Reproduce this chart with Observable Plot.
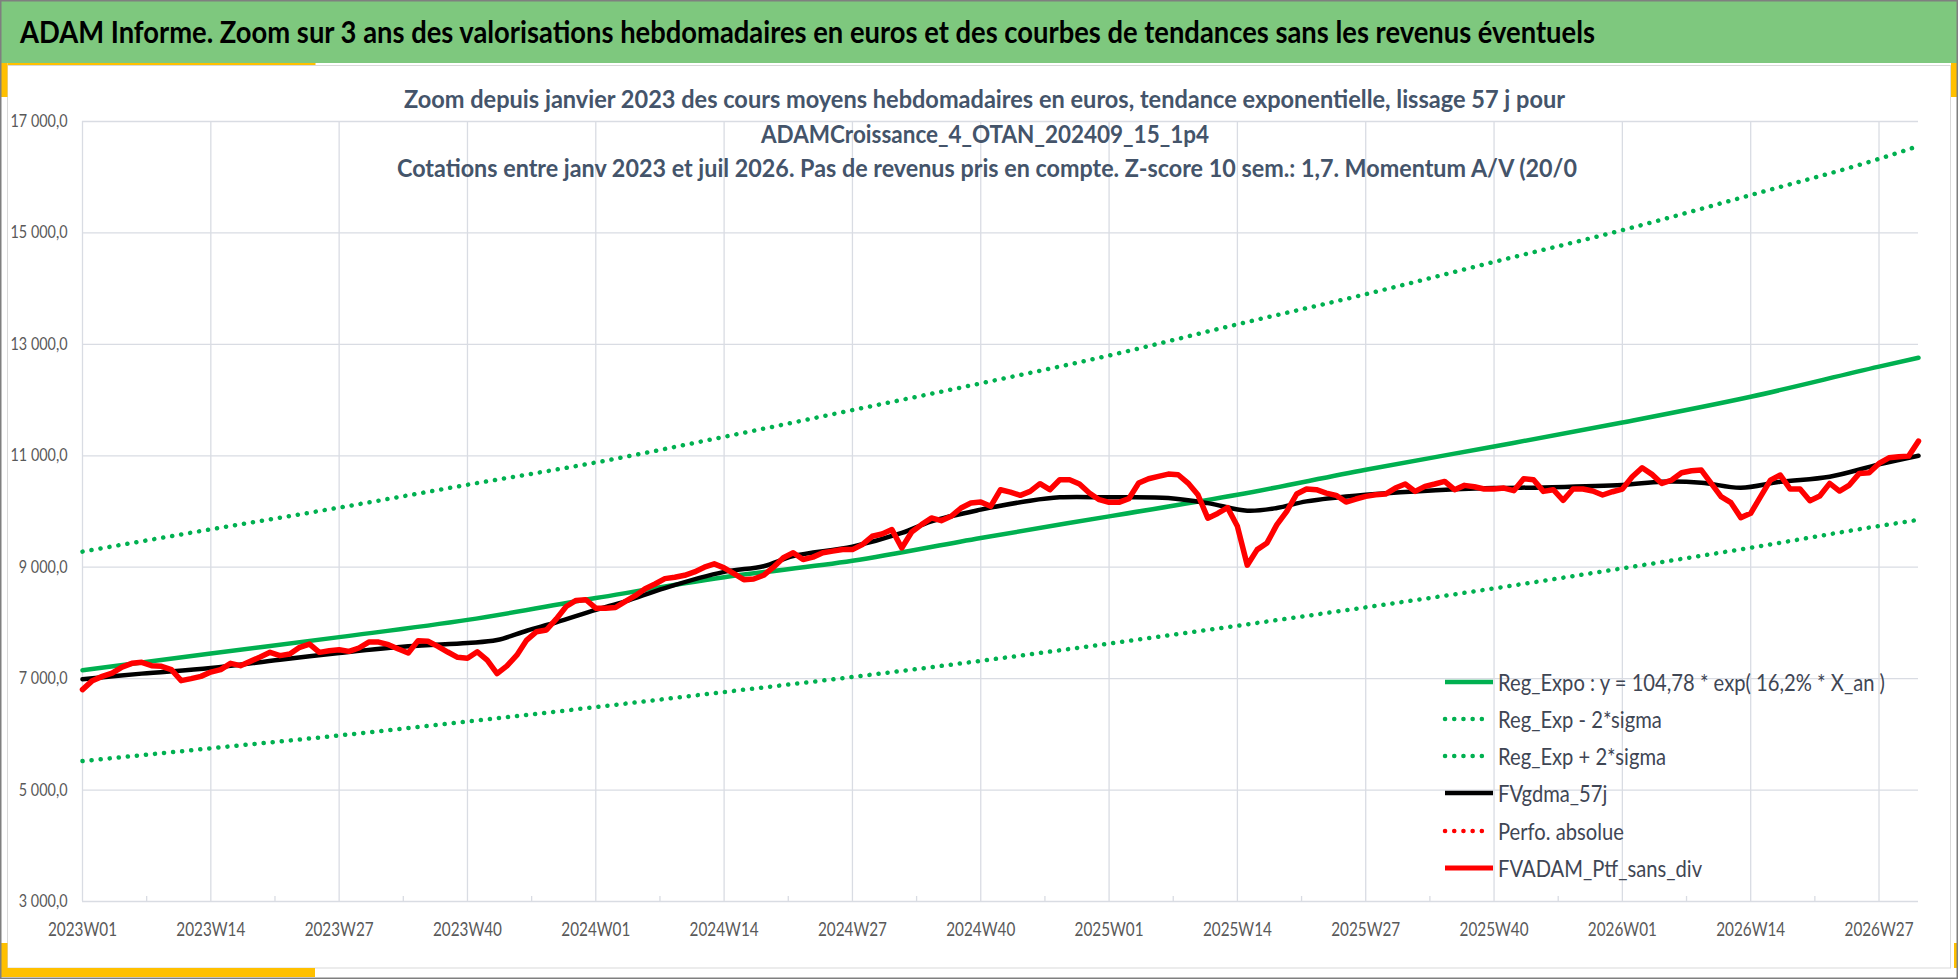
<!DOCTYPE html>
<html>
<head>
<meta charset="utf-8">
<script src="https://cdn.jsdelivr.net/npm/d3@7"></script>
<script src="https://cdn.jsdelivr.net/npm/@observablehq/plot@0.6"></script>
<style>
  html, body { margin: 0; padding: 0; background: #fff; overflow: hidden; }
  #page { position: relative; width: 1958px; height: 979px; overflow: hidden; background: #fff; }
  #page > svg { position: absolute; left: 0; top: 0; }
</style>
</head>
<body>
<div id="page"></div>
<script>
// ---------------- DATA ----------------
const years = [2023, 2024, 2025, 2026];
const weeksInYear = [52, 52, 52, 31];
const tickLabels = ["2023W01","2023W14","2023W27","2023W40","2024W01","2024W14","2024W27","2024W40",
                    "2025W01","2025W14","2025W27","2025W40","2026W01","2026W14","2026W27"];
const yTicks = [3000, 5000, 7000, 9000, 11000, 13000, 15000, 17000];

// exponential trend and ±2 sigma bands, read at each labelled week and at the last week
const trendWeeks  = ["2023W01","2023W14","2023W27","2023W40","2024W01","2024W14","2024W27","2024W40",
                     "2025W01","2025W14","2025W27","2025W40","2026W01","2026W14","2026W27","2026W31"];
const trendValues = [7150, 7450, 7745, 8055, 8446, 8819, 9115, 9525, 9913, 10300, 10749, 11167, 11597, 12060, 12600, 12760];
const upperValues = [9280, 9680, 10070, 10480, 10880, 11340, 11820, 12300, 12800, 13360, 13900, 14480, 15050, 15680, 16330, 16560];
const lowerValues = [5520, 5750, 5980, 6230, 6490, 6760, 7030, 7320, 7630, 7950, 8280, 8620, 8980, 9350, 9740, 9850];

// 57-day moving average (week index since 2023W01, value)
const smaWeekIdx = [0, 6, 13, 20, 26, 33, 39, 42, 45, 48, 52, 55, 59, 65, 69, 72, 78, 83, 86, 91, 96, 99, 104,
                    110, 114, 118, 121, 124, 130, 135, 143, 148, 156, 160, 164, 168, 172, 177, 182, 186];
const smaValues  = [6990, 7090, 7190, 7341, 7460, 7580, 7640, 7693, 7860, 8012, 8235, 8386, 8626, 8916, 9018, 9199, 9370,
                    9615, 9824, 10033, 10194, 10254, 10254, 10242, 10150, 10015, 10063, 10182, 10301, 10361, 10421,
                    10433, 10475, 10534, 10516, 10427, 10534, 10624, 10845, 11000];

// weekly portfolio value (one value per week, 2023W01 .. 2026W31)
const ptfValues = [
  6803, 6964, 7041, 7100, 7208, 7275, 7293, 7233, 7221, 7161,
  6964, 7000, 7041, 7118, 7161, 7275, 7233, 7310, 7388, 7472,
  7413, 7442, 7562, 7621, 7472, 7502, 7520, 7490, 7550, 7657,
  7657, 7610, 7531, 7460, 7682, 7670, 7580, 7478, 7382, 7365,
  7482, 7331, 7090, 7229, 7422, 7693, 7843, 7873, 8072, 8295,
  8404, 8416, 8265, 8265, 8277, 8386, 8488, 8614, 8699, 8795,
  8819, 8855, 8916, 9000, 9060, 8988, 8886, 8777, 8789, 8855,
  9000, 9169, 9259, 9139, 9181, 9259, 9289, 9319, 9316, 9406,
  9555, 9597, 9675, 9346, 9633, 9764, 9884, 9836, 9913, 10063,
  10152, 10170, 10093, 10391, 10349, 10290, 10361, 10499, 10391, 10570,
  10570, 10493, 10331, 10212, 10164, 10164, 10230, 10510, 10588, 10630,
  10672, 10660, 10510, 10301, 9880, 9965, 10070, 9734, 9036, 9316,
  9436, 9764, 10003, 10313, 10403, 10391, 10331, 10290, 10170, 10224,
  10272, 10301, 10313, 10421, 10493, 10361, 10451, 10493, 10540, 10391,
  10469, 10445, 10403, 10403, 10421, 10373, 10588, 10570, 10361, 10391,
  10200, 10403, 10403, 10367, 10296, 10355, 10403, 10624, 10785, 10666,
  10504, 10564, 10696, 10731, 10743, 10504, 10266, 10158, 9890, 9967,
  10266, 10564, 10654, 10403, 10403, 10194, 10278, 10504, 10367, 10475,
  10684, 10696, 10863, 10964, 10982, 10994, 11263
];

const legendLabels = [
  "Reg_Expo : y = 104,78 * exp( 16,2% *  X_an )",
  "Reg_Exp - 2*sigma",
  "Reg_Exp + 2*sigma",
  "FVgdma_57j",
  "Perfo. absolue",
  "FVADAM_Ptf_sans_div"
];
const titleText = "ADAM Informe. Zoom sur 3 ans des valorisations hebdomadaires en euros et des courbes de tendances sans les revenus éventuels";
const subtitleLines = [
  "Zoom depuis janvier 2023 des cours moyens hebdomadaires  en euros, tendance exponentielle, lissage 57 j pour",
  "ADAMCroissance_4_OTAN_202409_15_1p4",
  "Cotations  entre janv 2023 et juil 2026. Pas de revenus pris en compte. Z-score 10 sem.: 1,7. Momentum A/V (20/0"
];

// ---------------- STYLE ----------------
const W = 1958, H = 979;
const FONT = 'Lato, "Open Sans", "Liberation Sans", Arial, sans-serif';
const GREEN = "#00b050", RED = "#ff0000", BLACK = "#000000";
const GRID = "#d9dce3";
const YELLOW = "#ffc000";
const BAR = "#7ec87e";
const DOT = "0.1 9";
const TICK_COLOR = "#595959";

// ---------------- BUILD ----------------
const weeks = years.flatMap((y, k) => d3.range(1, weeksInYear[k] + 1).map(w => `${y}W${String(w).padStart(2, "0")}`));
const wi = w => weeks.indexOf(w);
const tickIdx = tickLabels.map(wi);
const minorIdx = tickIdx.slice(0, -1).map((t, k) => (t + tickIdx[k + 1]) / 2);

const trend = trendWeeks.map((w, k) => ({i: wi(w), v: trendValues[k]}));
const upper = trendWeeks.map((w, k) => ({i: wi(w), v: upperValues[k]}));
const lower = trendWeeks.map((w, k) => ({i: wi(w), v: lowerValues[k]}));
const sma = smaWeekIdx.map((i, k) => ({i, v: smaValues[k]}));
const ptf = ptfValues.map((v, i) => ({i, v}));

const fr = d3.formatLocale({decimal: ",", thousands: " ", grouping: [3]});
const fmtY = fr.format(",.1f");

// compress a group of texts horizontally so that a sample text gets a target width
function fitGroup(nodes, sample, target) {
  nodes = Array.from(nodes);
  const ref = nodes.find(n => n.textContent === sample) || nodes[0];
  if (!ref) return;
  const f = target / ref.getComputedTextLength();
  nodes.forEach(n => {
    n.setAttribute("textLength", n.getComputedTextLength() * f);
    n.setAttribute("lengthAdjust", "spacingAndGlyphs");
  });
}

const page = d3.select("#page");

// background decoration
const bg = page.append("svg").attr("width", W).attr("height", H);
bg.append("rect").attr("width", W).attr("height", H).attr("fill", "#fff");
bg.append("rect").attr("x", 0).attr("y", 0).attr("width", W).attr("height", 63).attr("fill", BAR);
bg.append("rect").attr("x", 7.5).attr("y", 65.5).attr("width", 1943).attr("height", 902.5)
  .attr("fill", "none").attr("stroke", "#d9d9d9").attr("stroke-width", 1);
const yel = [[0, 63, 7.5, 34], [7.5, 63, 308, 2], [0, 943, 7.5, 34], [0, 968, 315, 9], [1951, 63, 7, 34], [1954, 943, 4, 25]];
yel.forEach(([x, y, w, h]) => bg.append("rect").attr("x", x).attr("y", y).attr("width", w).attr("height", h).attr("fill", YELLOW));

// chart
const chart = Plot.plot({
  width: W, height: H,
  marginLeft: 82, marginRight: 40, marginTop: 121, marginBottom: 78,
  x: {type: "linear", domain: [0, weeks.length - 1], label: null},
  y: {type: "linear", domain: [yTicks[0], yTicks[yTicks.length - 1]], label: null},
  style: {fontFamily: FONT, background: "transparent", overflow: "visible"},
  marks: [
    Plot.gridX(tickIdx, {stroke: GRID, strokeOpacity: 1, strokeWidth: 1.3}),
    Plot.gridY(yTicks, {stroke: GRID, strokeOpacity: 1, strokeWidth: 1.3}),
    Plot.ruleX(minorIdx, {y1: yTicks[0], y2: yTicks[0], insetTop: -5, stroke: GRID, strokeWidth: 1.3}),
    Plot.axisY(yTicks, {tickSize: 0, tickPadding: 15, tickFormat: fmtY, fontSize: 17, color: TICK_COLOR, label: null}),
    Plot.axisX(tickIdx, {tickSize: 0, tickPadding: 21, tickFormat: d => weeks[d], fontSize: 19, color: TICK_COLOR, label: null}),
    Plot.line(trend, {x: "i", y: "v", stroke: GREEN, strokeWidth: 4.5, curve: "monotone-x"}),
    Plot.line(lower, {x: "i", y: "v", stroke: GREEN, strokeWidth: 4.5, strokeDasharray: DOT, strokeLinecap: "round", curve: "monotone-x"}),
    Plot.line(upper, {x: "i", y: "v", stroke: GREEN, strokeWidth: 4.5, strokeDasharray: DOT, strokeLinecap: "round", curve: "monotone-x"}),
    Plot.line(sma, {x: "i", y: "v", stroke: BLACK, strokeWidth: 4.5, curve: "catmull-rom"}),
    Plot.line(ptf, {x: "i", y: "v", stroke: RED, strokeWidth: 5.5, strokeLinejoin: "round"})
  ]
});
page.node().appendChild(chart);

const chartTexts = Array.from(chart.querySelectorAll("text"));
fitGroup(chartTexts.filter(t => t.textContent.includes("W")), "2025W14", 69);
fitGroup(chartTexts.filter(t => !t.textContent.includes("W")), "17 000,0", 57);

// foreground: titles, legend, frame
const fg = page.append("svg").attr("width", W).attr("height", H).style("font-family", FONT);
fg.append("text").attr("x", 20).attr("y", 43).attr("font-size", 30).attr("font-weight", "bold")
  .attr("fill", "#000").attr("textLength", 1575).attr("lengthAdjust", "spacingAndGlyphs").text(titleText);

const subX = [404, 761, 397], subW = [1161, 448, 1180], subY = [108, 143, 177];
subtitleLines.forEach((t, k) => {
  fg.append("text").attr("x", subX[k]).attr("y", subY[k]).attr("font-size", 24).attr("font-weight", "bold")
    .attr("fill", "#44546a").attr("textLength", subW[k]).attr("lengthAdjust", "spacingAndGlyphs").text(t);
});

const legStyle = [
  {stroke: GREEN, dash: null, w: 4.5},
  {stroke: GREEN, dash: "0.1 9.1", w: 4.5},
  {stroke: GREEN, dash: "0.1 9.1", w: 4.5},
  {stroke: BLACK, dash: null, w: 4.5},
  {stroke: RED, dash: "0.1 9.1", w: 4.5},
  {stroke: RED, dash: null, w: 5}
];
const legY = [682, 719, 756, 793, 831, 868];
const legTexts = [];
legendLabels.forEach((t, k) => {
  const s = legStyle[k];
  const ln = fg.append("line").attr("x1", 1445).attr("x2", s.dash ? 1491 : 1493)
    .attr("y1", legY[k]).attr("y2", legY[k]).attr("stroke", s.stroke).attr("stroke-width", s.w)
    .attr("stroke-linecap", s.dash ? "round" : "butt");
  if (s.dash) ln.attr("stroke-dasharray", s.dash);
  legTexts.push(fg.append("text").attr("x", 1498).attr("y", legY[k] + 8.5).attr("font-size", 23.5)
    .attr("fill", "#3f4654").text(t).node());
});
fitGroup(legTexts, legendLabels[0], 387);

fg.append("rect").attr("x", 0.75).attr("y", 0.75).attr("width", W - 1.5).attr("height", H - 1.5)
  .attr("fill", "none").attr("stroke", "#7f7f7f").attr("stroke-width", 1.5);
</script>
</body>
</html>
